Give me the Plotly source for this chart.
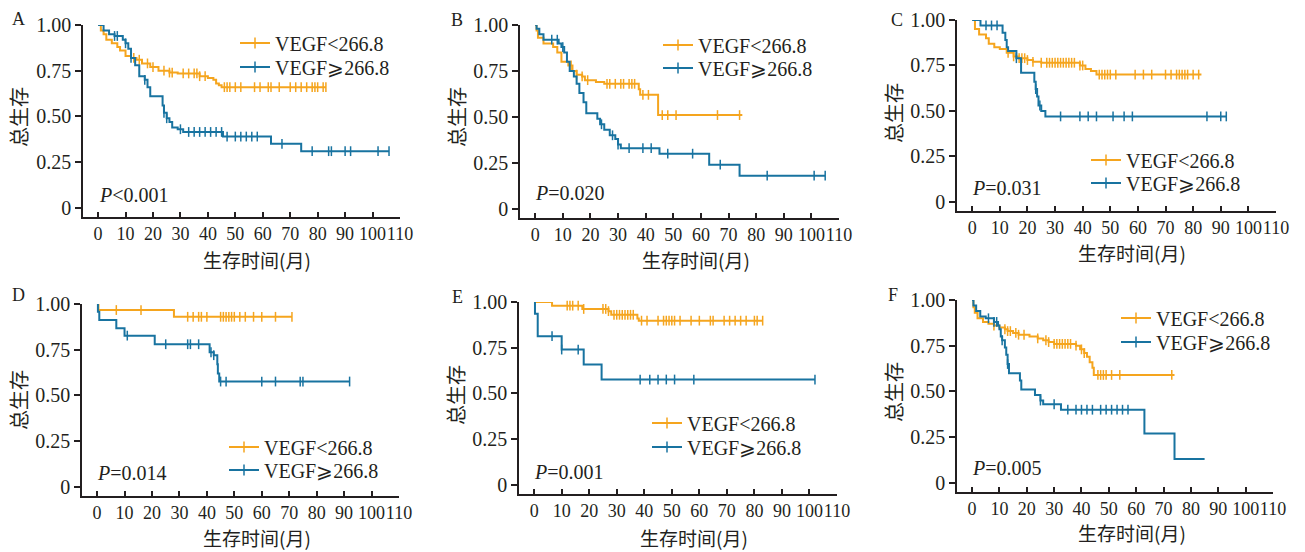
import numpy as np
import plotly.graph_objects as go

W, H = 1305, 552
ORANGE = "#F5A51E"
BLUE = "#1873A0"
INK = "#231F20"
SERIF = "Liberation Serif, Times New Roman, serif"
CJK = "Noto Sans CJK SC, sans-serif"

# ---------------- data ----------------
panel_labels = ["A", "B", "C", "D", "E", "F"]
p_texts = ["<i>P</i>&lt;0.001", "<i>P</i>=0.020", "<i>P</i>=0.031",
           "<i>P</i>=0.014", "<i>P</i>=0.001", "<i>P</i>=0.005"]
series_names = ["VEGF<266.8", "VEGF⩾266.8"]
x_ticks = [0, 10, 20, 30, 40, 50, 60, 70, 80, 90, 100, 110]
y_ticks = [0, 0.25, 0.5, 0.75, 1.0]
y_tick_text = ["0", "0.25", "0.50", "0.75", "1.00"]
y_title = "总生存"
x_title = "生存时间(月)"

# Panel A
A_low_t = [1, 2, 3, 5, 7, 8, 10, 12, 14, 16, 19, 22, 26, 29, 37, 40, 42, 43, 44, 45]
A_low_s = [0.97, 0.95, 0.92, 0.90, 0.88, 0.86, 0.83, 0.82, 0.81, 0.79, 0.77, 0.75, 0.74, 0.735,
           0.72, 0.71, 0.70, 0.68, 0.67, 0.66]
A_low_end = 83
A_low_cens = [13, 15, 18, 20, 24, 26, 27, 31, 33, 35, 36, 37, 39, 46, 47, 48, 50, 52, 57, 59,
              62, 63, 66, 70, 72, 74, 76, 78, 79, 80, 82, 83]
A_high_t = [2, 4, 6, 9, 10, 11, 12, 13.5, 15, 17, 18, 19, 23.5, 24, 25, 26, 27, 29, 31, 45.5, 63, 74]
A_high_s = [0.97, 0.95, 0.94, 0.92, 0.90, 0.87, 0.82, 0.78, 0.72, 0.70, 0.66, 0.61, 0.56, 0.52,
            0.49, 0.47, 0.44, 0.43, 0.415, 0.39, 0.35, 0.31]
A_high_end = 106
A_high_cens = [6, 7, 10, 12, 17, 24, 25, 30, 33, 35, 37, 39, 41, 43, 45, 47, 50, 52, 54, 56, 58,
               67, 78, 84, 85, 90, 92, 102, 106]

# Panel B
B_low_t = [0.5, 1, 3, 6.5, 8, 9.5, 12, 13.5, 15, 17, 18, 22, 25, 37.5, 38, 44.5]
B_low_s = [0.97, 0.93, 0.90, 0.88, 0.85, 0.80, 0.78, 0.75, 0.73, 0.72, 0.70, 0.69, 0.68, 0.65,
           0.62, 0.51]
B_low_end = 75
B_low_cens = [13, 15, 17, 19, 26, 27, 29, 31, 32, 34, 35, 36, 39, 41, 46, 48, 51, 66, 74]
B_high_t = [0.5, 1.5, 3, 8.5, 9.5, 10.5, 11.5, 12.5, 14, 15, 16, 17.5, 18.5, 22.5, 23.5, 25, 27,
            29, 30, 31, 45, 63, 74]
B_high_s = [0.98, 0.95, 0.92, 0.90, 0.88, 0.85, 0.80, 0.75, 0.72, 0.68, 0.63, 0.58, 0.52, 0.49,
            0.46, 0.43, 0.40, 0.38, 0.35, 0.33, 0.30, 0.24, 0.18]
B_high_end = 105
B_high_cens = [6, 8, 10, 24, 28, 30, 34, 39, 42, 48, 57, 67, 84, 101, 105]

# Panel C
C_low_t = [1, 2.5, 5, 6, 8, 10, 12.5, 15, 17, 20, 22, 25, 39, 41, 43, 45]
C_low_s = [0.95, 0.92, 0.90, 0.87, 0.85, 0.84, 0.82, 0.80, 0.79, 0.78, 0.77, 0.765, 0.75, 0.73,
           0.72, 0.70]
C_low_end = 83
C_low_cens = [13, 15, 17, 18, 19, 20, 22, 25, 27, 28, 29, 30, 31, 32, 33, 34, 35, 36, 37, 39, 40,
              46, 47, 48, 49, 50, 52, 59, 62, 65, 70, 72, 74, 75, 76, 77, 78, 80, 82]
C_high_t = [3, 11, 12, 12.5, 13, 16, 17.7, 22.5, 23, 23.5, 24, 25, 26.5]
C_high_s = [0.97, 0.93, 0.89, 0.85, 0.83, 0.79, 0.71, 0.66, 0.62, 0.58, 0.53, 0.50, 0.47]
C_high_end = 92
C_high_cens = [5, 7, 9, 16, 23, 24.5, 32, 39, 42, 45, 51, 55, 58, 85, 90, 92]

# Panel D
D_low_t = [0.5, 28]
D_low_s = [0.967, 0.93]
D_low_end = 71
D_low_cens = [7, 16, 33, 35, 37, 38, 40, 45, 46, 47, 48, 49, 50, 52, 54, 57, 60, 65, 71]
D_high_t = [0.3, 0.8, 7, 10, 21, 41, 42.5, 43.8, 44, 44.5]
D_high_s = [0.958, 0.913, 0.867, 0.827, 0.78, 0.736, 0.72, 0.67, 0.62, 0.576]
D_high_end = 92
D_high_cens = [11, 25, 33, 34, 37, 41.5, 42.5, 45, 47, 60, 65, 74, 75, 92]

# Panel E
E_low_t = [6.5, 17.5, 27, 28, 37.5, 38]
E_low_s = [0.98, 0.962, 0.95, 0.93, 0.91, 0.898]
E_low_end = 83
E_low_cens = [12, 13, 14, 16, 18, 25, 26, 27, 29, 30, 31, 32, 33, 34, 35, 36, 39, 41, 45, 47, 48,
              49, 50, 51, 53, 57, 60, 64, 65, 69, 71, 73, 75, 77, 80, 81, 83]
E_high_t = [0.3, 1.3, 10, 18, 24.5]
E_high_s = [0.936, 0.813, 0.74, 0.658, 0.576]
E_high_end = 102
E_high_cens = [6.5, 10, 16, 38.5, 42, 45, 48, 51, 58, 102]

# Panel F
F_low_t = [0.5, 1, 2, 4, 6, 8, 10, 12, 13, 15, 17, 21, 24, 26, 28, 30, 38, 39.5, 41, 42, 43, 44, 44.5]
F_low_s = [0.96, 0.93, 0.90, 0.88, 0.87, 0.86, 0.85, 0.84, 0.83, 0.82, 0.81, 0.80, 0.79, 0.78,
           0.77, 0.76, 0.75, 0.73, 0.71, 0.69, 0.66, 0.63, 0.59]
F_low_end = 74
F_low_cens = [8, 12, 13, 14, 16, 17, 19, 24, 27, 28, 30, 31, 32, 33, 34, 35, 36, 38, 40, 41, 46,
              47, 48, 49, 51, 54, 73]
F_high_t = [0.5, 1.5, 3, 5, 8, 9.5, 10, 10.5, 11, 12, 12.5, 13, 13.5, 17.5, 18, 23, 25, 26, 32.5,
            63, 74]
F_high_s = [0.97, 0.94, 0.91, 0.90, 0.88, 0.86, 0.84, 0.80, 0.78, 0.74, 0.70, 0.65, 0.60, 0.56,
            0.51, 0.48, 0.45, 0.43, 0.40, 0.27, 0.13]
F_high_end = 85
F_high_cens = [6, 8, 9, 11, 13, 25, 30, 35, 38, 40, 42, 44, 47, 49, 51, 53, 55, 57]

panels_data = [
    ((A_low_t, A_low_s, A_low_end, A_low_cens), (A_high_t, A_high_s, A_high_end, A_high_cens)),
    ((B_low_t, B_low_s, B_low_end, B_low_cens), (B_high_t, B_high_s, B_high_end, B_high_cens)),
    ((C_low_t, C_low_s, C_low_end, C_low_cens), (C_high_t, C_high_s, C_high_end, C_high_cens)),
    ((D_low_t, D_low_s, D_low_end, D_low_cens), (D_high_t, D_high_s, D_high_end, D_high_cens)),
    ((E_low_t, E_low_s, E_low_end, E_low_cens), (E_high_t, E_high_s, E_high_end, E_high_cens)),
    ((F_low_t, F_low_s, F_low_end, F_low_cens), (F_high_t, F_high_s, F_high_end, F_high_cens)),
]

# ---------------- layout geometry (pixels) ----------------
boxes = [(83, 400, 25, 217), (520, 839, 25, 218), (957, 1276, 20, 211),
         (82, 399, 304, 496), (519, 837, 302, 494), (957, 1273, 300, 492)]
legend_text_x = [276, 699, 1127, 265, 688, 1157]
legend_rows = [(43, 67), (45, 68), (160, 183), (447, 470), (423, 447), (318, 342)]
letter_pos = [(18, 19), (457, 20), (897, 20), (18, 295), (457, 297), (893, 295)]
ytitle_pos = [(19, 117), (457, 117), (893, 113), (18, 400), (455, 395), (893, 392)]
xtitle_pos = [(257, 259), (696, 259), (1132, 252), (257, 537), (694, 537), (1132, 532)]
p_pos = [(97, 195), (533, 193), (970, 188), (95, 473), (532, 472), (970, 468)]

X_RANGE = [-5.5, 110]
Y_RANGE = [-0.05, 1.0]


def px(x):
    return x / W


def py(y):
    return 1 - y / H


def step_xy(t, s, end):
    xs = [0] + list(t) + [end]
    ys = [1.0] + list(s) + [s[-1]]
    return xs, ys


def surv_at(t, s, times):
    t = np.asarray(t)
    s_full = np.concatenate([[1.0], np.asarray(s)])
    idx = np.searchsorted(t, np.asarray(times), side="right")
    return s_full[idx]


fig = go.Figure()
annotations = []
layout_axes = {}
legend_count = 0

for i, (curves, box) in enumerate(zip(panels_data, boxes)):
    n = i + 1
    xa = "x" if n == 1 else f"x{n}"
    ya = "y" if n == 1 else f"y{n}"
    L, R, T, B = box
    for k, ((t, s, end, cens), color, name) in enumerate(zip(curves, [ORANGE, BLUE], series_names)):
        legend_count += 1
        lg = "legend" if legend_count == 1 else f"legend{legend_count}"
        xs, ys = step_xy(t, s, end)
        fig.add_trace(go.Scatter(x=xs, y=ys, mode="lines", line=dict(color=color, width=2, shape="hv"),
                                 xaxis=xa, yaxis=ya, showlegend=False, cliponaxis=False,
                                 hoverinfo="skip"))
        fig.add_trace(go.Scatter(x=cens, y=surv_at(t, s, cens), mode="markers",
                                 marker=dict(symbol="line-ns", size=7, line=dict(color=color, width=1.5)),
                                 xaxis=xa, yaxis=ya, showlegend=False, cliponaxis=False,
                                 hoverinfo="skip"))
        fig.add_trace(go.Scatter(x=[None], y=[None], mode="lines+markers", name=name,
                                 line=dict(color=color, width=2),
                                 marker=dict(symbol="line-ns", size=8, line=dict(color=color, width=1.5)),
                                 xaxis=xa, yaxis=ya, legend=lg, showlegend=True))
        layout_axes[lg] = dict(x=px(legend_text_x[i] - 41), y=py(legend_rows[i][k]),
                               xanchor="left", yanchor="middle",
                               bgcolor="rgba(0,0,0,0)", borderwidth=0,
                               font=dict(family=SERIF, size=20, color=INK), itemwidth=30)
    axis_common = dict(showline=True, linecolor=INK, linewidth=1.5, showgrid=False, zeroline=False,
                       automargin=False, tickcolor=INK, tickwidth=1.5, tickangle=0)
    layout_axes["xaxis" if n == 1 else f"xaxis{n}"] = dict(
        domain=[px(L), px(R)], anchor=ya, range=X_RANGE, tickvals=x_ticks, ticks="inside", ticklen=5,
        tickfont=dict(family=SERIF, size=18, color=INK), **axis_common)
    layout_axes["yaxis" if n == 1 else f"yaxis{n}"] = dict(
        domain=[py(B), py(T)], anchor=xa, range=Y_RANGE, tickvals=y_ticks, ticktext=y_tick_text,
        ticks="outside", ticklen=6, tickfont=dict(family=SERIF, size=20, color=INK), **axis_common)
    annotations.append(dict(text=panel_labels[i], x=px(letter_pos[i][0]), y=py(letter_pos[i][1]),
                            xref="paper", yref="paper", showarrow=False, xanchor="center", yanchor="middle",
                            font=dict(family=SERIF, size=18, color=INK)))
    annotations.append(dict(text=y_title, x=px(ytitle_pos[i][0]), y=py(ytitle_pos[i][1]),
                            xref="paper", yref="paper", showarrow=False, textangle=-90,
                            xanchor="center", yanchor="middle",
                            font=dict(family=CJK, size=20, color=INK)))
    annotations.append(dict(text=x_title, x=px(xtitle_pos[i][0]), y=py(xtitle_pos[i][1]),
                            xref="paper", yref="paper", showarrow=False, borderpad=0,
                            xanchor="center", yanchor="middle",
                            font=dict(family=CJK, size=19, color=INK)))
    annotations.append(dict(text=p_texts[i], x=px(p_pos[i][0]), y=py(p_pos[i][1]),
                            xref="paper", yref="paper", showarrow=False,
                            xanchor="left", yanchor="middle",
                            font=dict(family=SERIF, size=20, color=INK)))

fig.update_layout(width=W, height=H, autosize=False, margin=dict(l=0, r=0, t=0, b=0, autoexpand=False),
                  paper_bgcolor="white", plot_bgcolor="white",
                  annotations=annotations, **layout_axes)

fig.write_html("out.html", config={"displayModeBar": False},
               post_script="document.body.style.margin='0px';document.body.style.overflow='hidden';")
